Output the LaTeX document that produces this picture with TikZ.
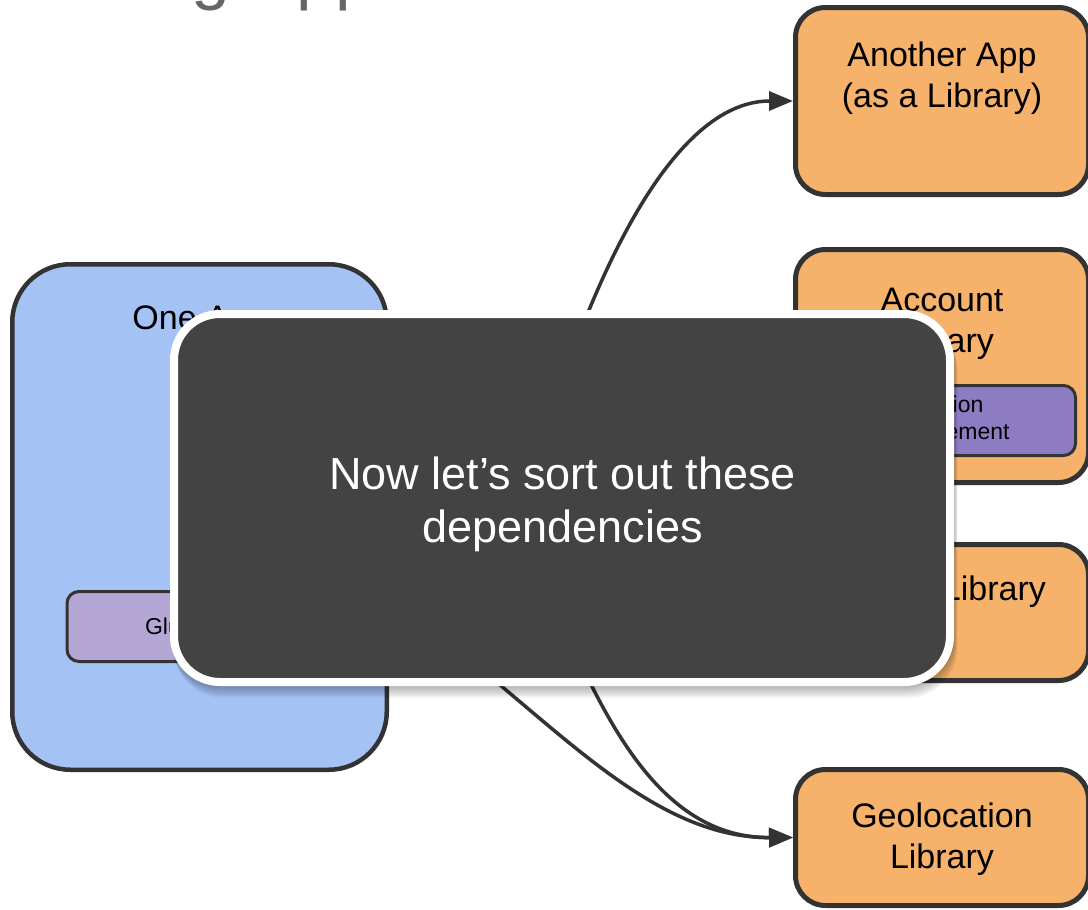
\documentclass[tikz,border=0pt]{standalone}
\usepackage{fontspec}
\setmainfont{Liberation Sans}
\usetikzlibrary{arrows.meta}
\definecolor{edgec}{HTML}{333333}
\definecolor{orangec}{HTML}{F6B26B}
\definecolor{bluec}{HTML}{A4C2F4}
\definecolor{lilac}{HTML}{B4A7D6}
\definecolor{purplec}{HTML}{8E7CC3}
\definecolor{overc}{HTML}{434343}
\definecolor{titlec}{HTML}{666666}
\begin{document}
\begin{tikzpicture}[x=1pt,y=-1pt,
  libbox/.style={draw=edgec, line width=5pt, fill=orangec, rounded corners=30pt, inner sep=0pt, minimum width=293pt},
  libtext/.style={anchor=north, inner sep=0pt, align=center, font=\fontsize{34}{41}\selectfont},
  appbox/.style={draw=edgec, line width=4.5pt, fill=bluec, rounded corners=58pt, inner sep=0pt},
  smallbox/.style={draw=edgec, line width=3pt, rounded corners=12pt, inner sep=0pt, minimum width=266pt, minimum height=70pt, align=center, font=\fontsize{23}{27}\selectfont},
  overbox/.style={draw=white, line width=8pt, fill=overc, rounded corners=46pt, inner sep=0pt, minimum width=776pt, minimum height=368pt},
  overtext/.style={text=white, align=center, inner sep=0pt, font=\fontsize{45}{53}\selectfont},
  conn/.style={draw=edgec, line width=3.5pt, -{Triangle[length=24pt,width=19pt]}},
  titletext/.style={anchor=base west, inner sep=0pt, text=titlec, font=\fontsize{70}{70}\selectfont}
]
\useasboundingbox (0,0) rectangle (1088,910);
\clip (0,0) rectangle (1088,910);
\fill[white] (0,0) rectangle (1088,910);

% title (mostly cut off, as in the reference)
\node[titletext] (title) at (-46,-4) {Breaking Apps};

% One App
\node[appbox, minimum width=374.5pt, minimum height=505.5pt] (oneapp) at (199.5,517) {};
\node[libtext] (oneappt) at (199.5,306) {One App};
\node[smallbox, fill=lilac] (glue) at (200,626.5) {Glue Code};

% libraries
\node[libbox, minimum height=187pt] (another) at (942,101) {};
\node[libtext] (anothert) at (942,42) {Another App\\(as a Library)};

\node[libbox, minimum height=233pt] (account) at (942,366) {};
\node[libtext] (accountt) at (942,288) {Account\\Library};
\node[smallbox, fill=purplec] (session) at (942.5,420.5) {Session\\Management};

\node[libbox, minimum height=136pt] (image) at (942,612.5) {};
\node[libtext] (imaget) at (942,576) {Image Library};

\node[libbox, minimum height=136pt] (geo) at (942,837.5) {};
\node[libtext] (geot) at (942,803) {Geolocation\\Library};

% connectors
\coordinate (s1) at (540,450);
\coordinate (s2) at (460,652);
\coordinate (s3) at (570,640);
\draw[conn] (s1) .. controls (600,250) and (680,101) .. (another.west);
\draw[conn] (s2) .. controls (570,740) and (660,838) .. (geo.west);
\draw[conn] (s3) .. controls (615,740) and (670,838) .. (geo.west);

% shadow of the overlay
\foreach \i in {1,...,7}
  \fill[black, opacity=0.045, rounded corners=50pt] (170+0.5*\i,310+1.7*\i) rectangle (954+0.5*\i,686+1.7*\i);

% overlay
\node[overbox] (overlay) at (562,498) {};
\node[overtext] (overlayt) at (562.5,504) {Now let’s sort out these\\dependencies};
\end{tikzpicture}
\end{document}
